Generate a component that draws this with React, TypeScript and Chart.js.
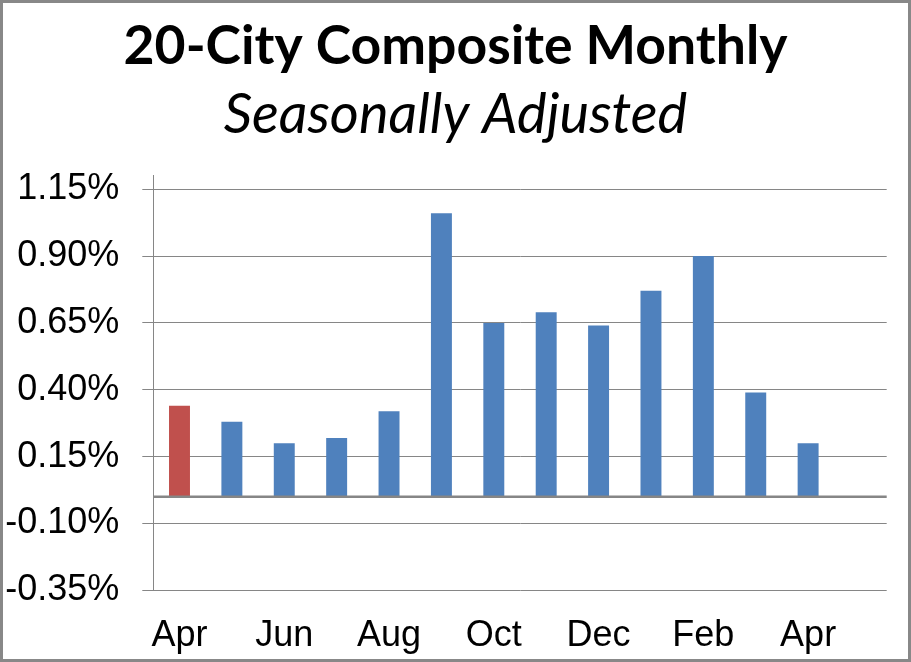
import React, { useEffect, useRef } from "react";
import { Chart, registerables } from "chart.js";

Chart.register(...registerables);

const categories = ["Apr", "May", "Jun", "Jul", "Aug", "Sep", "Oct", "Nov", "Dec", "Jan", "Feb", "Mar", "Apr", "May"];
const monthlyChange: (number | null)[] = [0.34, 0.28, 0.2, 0.22, 0.32, 1.06, 0.65, 0.69, 0.64, 0.77, 0.9, 0.39, 0.2, null];
const yTicks = [-0.35, -0.1, 0.15, 0.4, 0.65, 0.9, 1.15];
const titleText = "20-City Composite Monthly";
const subtitleText = "Seasonally Adjusted";

const BLUE = "#4F81BD";
const RED = "#C0504D";
const GRID = "#868686";

const zeroLinePlugin = {
  id: "zeroLine",
  afterDatasetsDraw(chart: any) {
    const y = chart.scales.y.getPixelForValue(0);
    const { left, right } = chart.chartArea;
    const ctx = chart.ctx;
    ctx.save();
    ctx.strokeStyle = GRID;
    ctx.lineWidth = 2.5;
    ctx.beginPath();
    ctx.moveTo(left, y);
    ctx.lineTo(right, y);
    ctx.stroke();
    ctx.restore();
  },
};

export default function App() {
  const canvasRef = useRef<HTMLCanvasElement | null>(null);

  useEffect(() => {
    if (!canvasRef.current) return;
    const chart = new Chart(canvasRef.current, {
      type: "bar",
      data: {
        labels: categories,
        datasets: [
          {
            data: monthlyChange,
            backgroundColor: (ctx: any) => (ctx.dataIndex === 0 ? RED : BLUE),
            categoryPercentage: 1,
            barPercentage: 0.4,
            borderWidth: 0,
          },
        ],
      },
      options: {
        responsive: false,
        animation: false,
        devicePixelRatio: 1,
        layout: { padding: 0 },
        plugins: {
          legend: { display: false },
          tooltip: { enabled: false },
          title: {
            display: true,
            text: titleText,
            color: "#000",
            font: { family: "Lato", weight: "bold", size: 53.5, lineHeight: 1 },
            padding: { top: 20, bottom: 0 },
          },
          subtitle: {
            display: true,
            text: subtitleText,
            color: "#000",
            font: { family: "Lato", style: "italic", weight: "normal", size: 56, lineHeight: 1 },
            padding: { top: 13.8, bottom: 32.6 },
          },
        },
        scales: {
          x: {
            grid: { display: false, drawTicks: false },
            border: { display: false },
            ticks: {
              autoSkip: false,
              maxRotation: 0,
              padding: 24,
              color: "#000",
              font: { family: "Liberation Sans", size: 36, lineHeight: 1.2 },
              callback: (_v: any, i: number) => (i % 2 === 0 ? categories[i] : ""),
            },
            afterFit: (scale: any) => {
              scale.height = 71.7;
            },
          },
          y: {
            min: -0.35,
            max: 1.2,
            afterBuildTicks: (scale: any) => {
              scale.ticks = yTicks.map((v) => ({ value: v }));
            },
            afterFit: (scale: any) => {
              scale.width = 153.3;
            },
            grid: { color: GRID, lineWidth: 1, drawTicks: true, tickLength: 11 },
            border: { display: true, color: GRID, width: 1 },
            ticks: {
              padding: 23,
              color: "#000",
              font: { family: "Liberation Sans", size: 36 },
              callback: (v: any) => Number(v).toFixed(2) + "%",
            },
          },
          spacer: {
            type: "linear",
            position: "right",
            display: true,
            min: 0,
            max: 1,
            grid: { display: false, drawTicks: false },
            border: { display: false },
            ticks: { display: false },
            afterFit: (scale: any) => {
              scale.width = 24.3;
            },
          },
        },
      },
      plugins: [zeroLinePlugin],
    });
    return () => chart.destroy();
  }, []);

  return (
    <div style={{ position: "fixed", left: 0, top: 0, width: 911, height: 662, background: "#fff" }}>
      <canvas ref={canvasRef} width={911} height={662} style={{ width: 911, height: 662, display: "block" }} />
      <div
        style={{
          position: "absolute",
          left: 0,
          top: 0,
          width: 911,
          height: 662,
          boxSizing: "border-box",
          border: "3px solid #888888",
          pointerEvents: "none",
        }}
      />
    </div>
  );
}
